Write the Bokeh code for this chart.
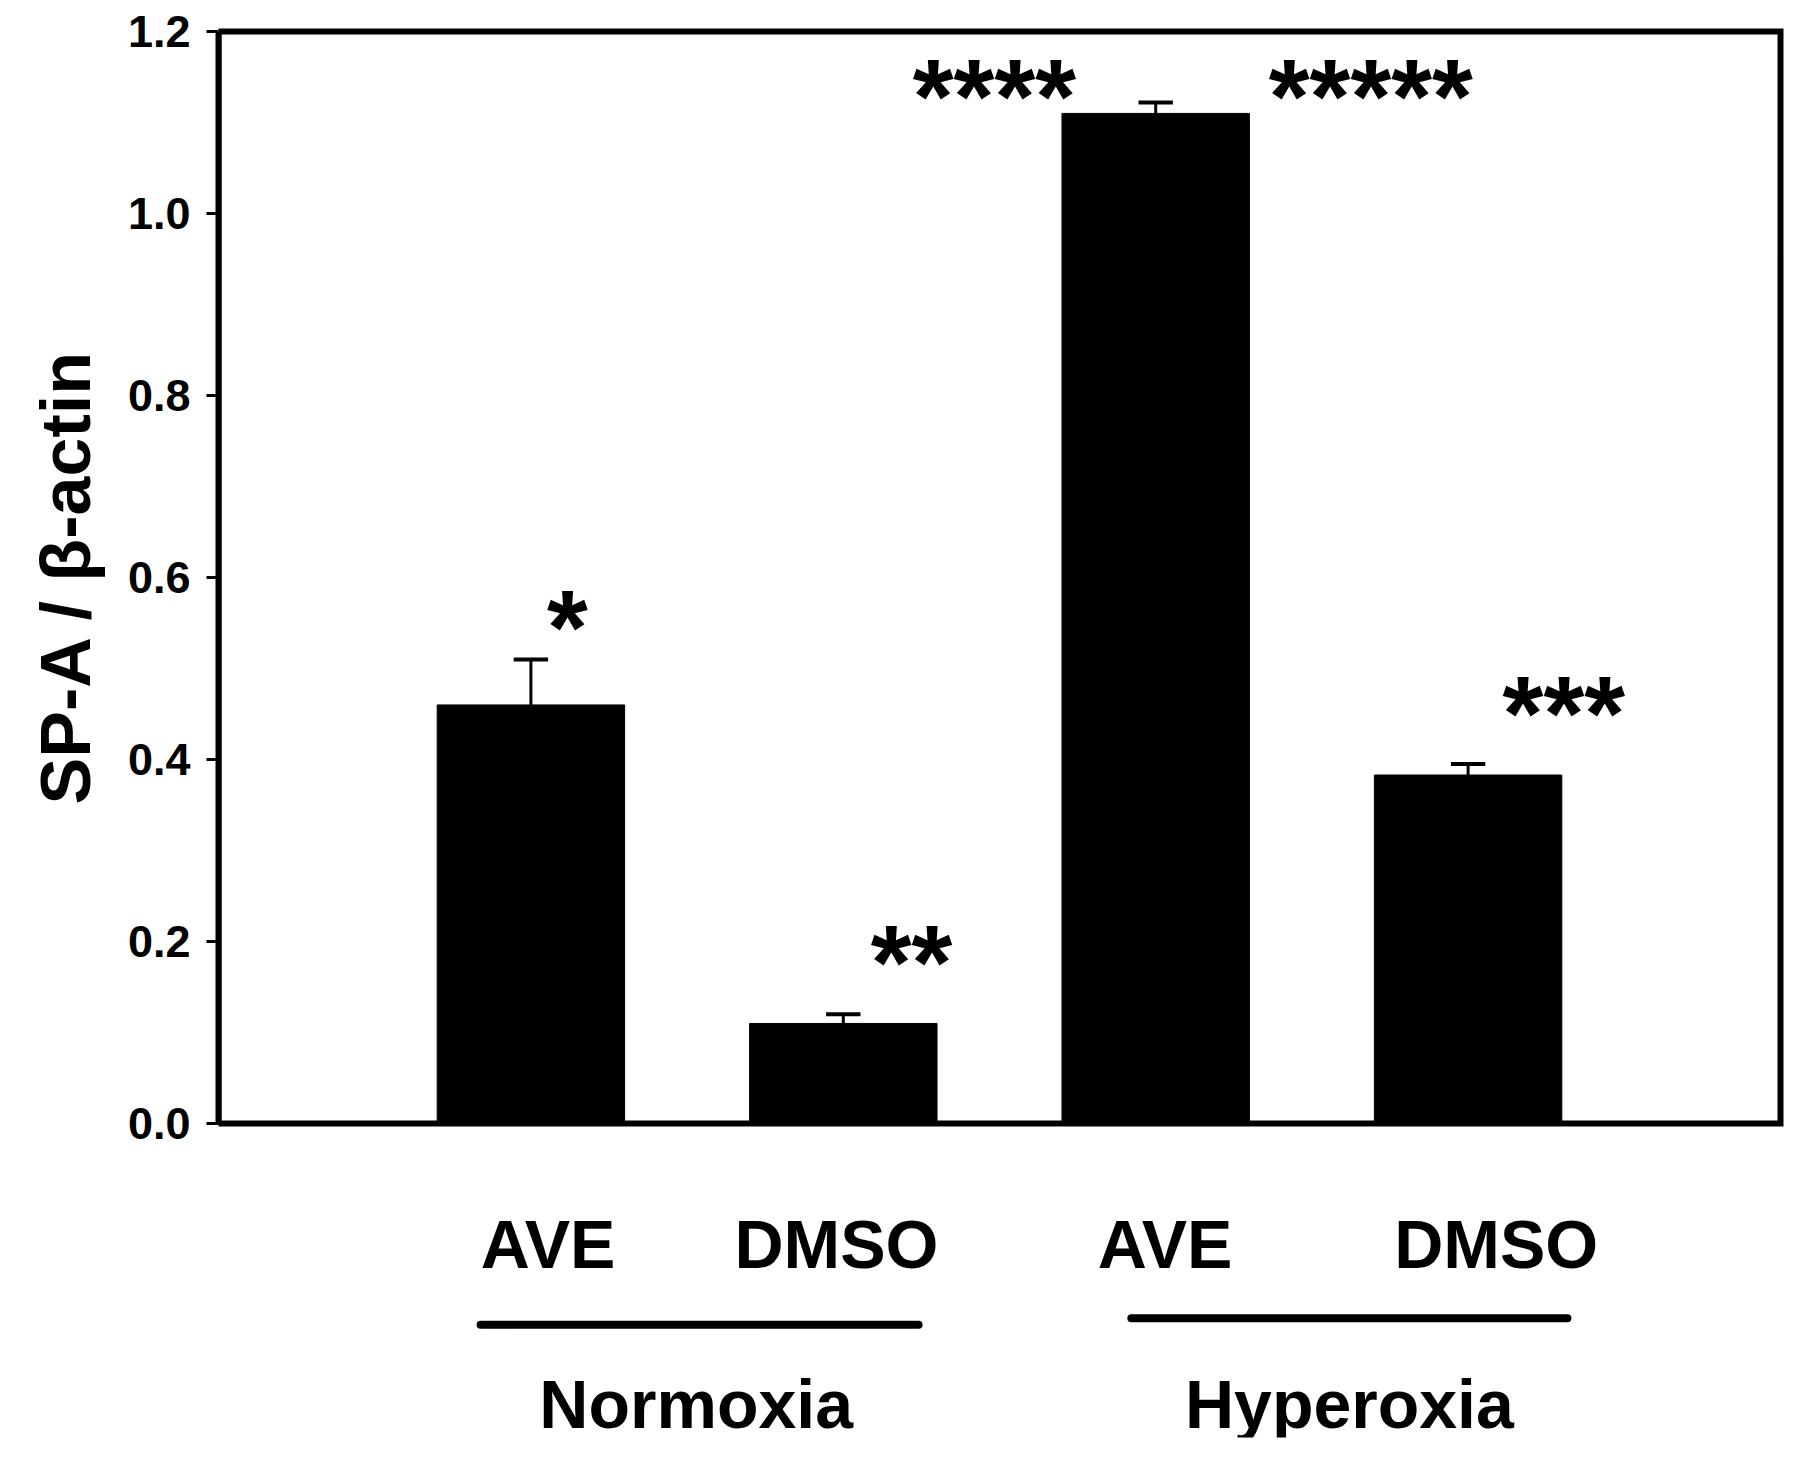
from bokeh.plotting import figure
from bokeh.models import Range1d, FixedTicker, ColumnDataSource, Title
from bokeh.core.properties import value
from bokeh.embed import file_html
from bokeh.resources import INLINE

# ---- data ----
bar_labels = ["AVE", "DMSO", "AVE", "DMSO"]
groups = ["Normoxia", "Hyperoxia"]
values = [0.46, 0.11, 1.11, 0.383]
errors = [0.05, 0.01, 0.012, 0.012]
stars = ["*", "**", "****", "*****", "***"]
y_ticks = [0.0, 0.2, 0.4, 0.6, 0.8, 1.0, 1.2]
y_tick_labels = ["0.0", "0.2", "0.4", "0.6", "0.8", "1.0", "1.2"]
y_title = "SP-A / \u03b2-actin"

# ---- layout / style ----
FONT = "Liberation Sans"
bar_x = [1, 2, 3, 4]
bar_w = 0.6
cap_half = 0.055
star_x = [1.103, 2.205, 2.470, 3.675, 4.293]
star_y = [0.545, 0.177, 1.129, 1.129, 0.451]
lab_x = [1.055, 1.978, 3.03, 4.09]
lab_y = -0.132
grp_x0 = [0.839, 2.922]
grp_x1 = [2.241, 4.318]
grp_ly = [-0.221, -0.214]
grp_x = [1.529, 3.62]
grp_y = -0.308
BOX_X = (0, 5)
BOX_Y = (0, 1.2)

W, H = 1784, 1441
p = figure(width=W, height=H, output_backend="svg", toolbar_location=None,
           x_range=Range1d(0, 5.0128), y_range=Range1d(-0.345, 1.211),
           min_border_left=218, min_border_right=0,
           min_border_top=21, min_border_bottom=4,
           x_axis_location=None)
p.xgrid.visible = False
p.ygrid.visible = False
p.outline_line_color = None
p.background_fill_color = "white"
p.border_fill_color = "white"

# plot box
p.quad(left=[BOX_X[0]], right=[BOX_X[1]], bottom=[BOX_Y[0]], top=[BOX_Y[1]],
       fill_color=None, line_color="black", line_width=6, line_join="miter")

src = ColumnDataSource(dict(x=bar_x, top=values,
                            up=[v + e for v, e in zip(values, errors)],
                            c0=[x - cap_half for x in bar_x],
                            c1=[x + cap_half for x in bar_x]))
p.vbar(x="x", top="top", bottom=0, width=bar_w, source=src,
       fill_color="black", line_color="black")
p.segment(x0="x", y0="top", x1="x", y1="up", source=src,
          line_color="black", line_width=3)
p.segment(x0="c0", y0="up", x1="c1", y1="up", source=src,
          line_color="black", line_width=4)

ax = p.yaxis[0]
ax.ticker = FixedTicker(ticks=y_ticks)
ax.bounds = BOX_Y
ax.major_label_overrides = {t: s for t, s in zip(y_ticks, y_tick_labels)}
ax.axis_line_color = "black"
ax.axis_line_width = 6
ax.major_tick_in = 0
ax.major_tick_out = 12
ax.major_tick_line_width = 3
ax.minor_tick_line_color = None
ax.major_label_text_font = FONT
ax.major_label_text_font_style = "bold"
ax.major_label_text_font_size = "45px"
ax.major_label_text_color = "black"
ax.major_label_standoff = 16

# y-axis title, placed along the plot box
p.add_layout(Title(text=y_title, align="left", offset=633, standoff=40,
                   text_font=FONT, text_font_style="bold",
                   text_font_size="70px", text_color="black"), "left")

# significance stars
p.text(x=star_x, y=star_y, text=stars, text_align="center", text_baseline="middle",
       text_font=value(FONT), text_font_style="bold italic",
       text_font_size="105px", text_color="black")

# treatment labels
p.text(x=lab_x, y=[lab_y] * len(lab_x), text=bar_labels, text_align="center",
       text_baseline="middle", text_font=value(FONT), text_font_style="bold",
       text_font_size="68px", text_color="black")

# group underlines
p.segment(x0=grp_x0, y0=grp_ly, x1=grp_x1, y1=grp_ly,
          line_color="black", line_width=8, line_cap="round")

# group labels
p.text(x=grp_x, y=[grp_y] * len(grp_x), text=groups, text_align="center",
       text_baseline="middle", text_font=value(FONT), text_font_style="bold",
       text_font_size="68px", text_color="black")

open("out.html", "w").write(file_html(p, INLINE))
